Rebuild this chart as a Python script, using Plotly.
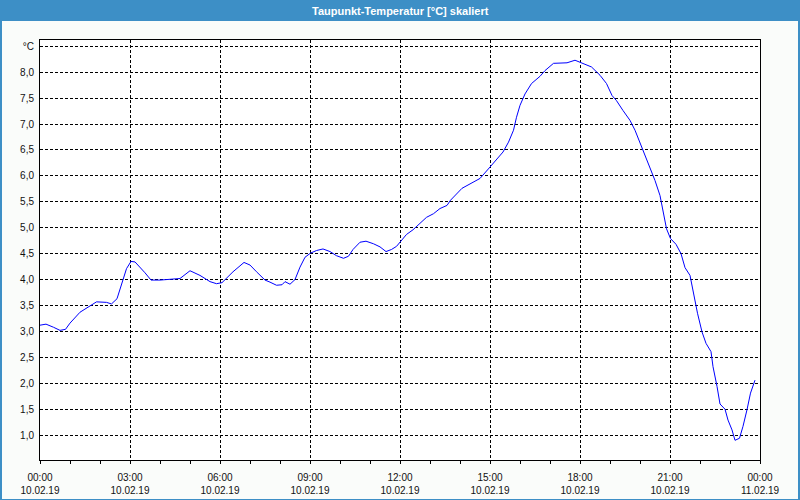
import plotly.graph_objects as go
import pandas as pd

# ---- data ----
times = ["00:00","00:12","00:27","00:40","00:51","01:00","01:20","01:40","01:53","02:13",
         "02:23","02:34","02:43","02:53","03:02","03:10","03:30","03:42","04:00","04:26",
         "04:40","05:00","05:20","05:40","05:53","06:04","06:26","06:48","07:00","07:13",
         "07:30","07:40","07:53","08:04","08:10","08:20","08:30","08:40","08:50","09:01",
         "09:13","09:26","09:40","09:53","10:07","10:17","10:26","10:40","10:52","11:07",
         "11:20","11:32","11:43","11:53","12:04","12:13","12:26","12:40","12:53","13:07",
         "13:20","13:34","13:41","14:04","14:40","15:00","15:13","15:26","15:37","15:47",
         "15:53","16:00","16:10","16:23","16:40","16:50","17:07","17:34","17:50","18:07",
         "18:23","18:40","18:53","19:04","19:13","19:26","19:40","19:50","20:04","20:17",
         "20:30","20:40","20:47","20:53","21:01","21:12","21:22","21:30","21:40","21:47",
         "21:55","22:04","22:12","22:22","22:26","22:34","22:40","22:50","22:56","23:04",
         "23:10","23:19","23:26","23:34","23:41","23:50"]
dewpoint = [3.12,3.14,3.08,3.02,3.04,3.16,3.37,3.50,3.57,3.56,
            3.53,3.63,3.92,4.21,4.35,4.34,4.13,3.99,3.99,4.01,
            4.02,4.17,4.08,3.96,3.92,3.94,4.15,4.33,4.28,4.15,
            3.99,3.95,3.89,3.90,3.96,3.91,4.00,4.24,4.43,4.51,
            4.56,4.59,4.54,4.46,4.41,4.45,4.58,4.72,4.74,4.69,
            4.63,4.54,4.58,4.64,4.77,4.87,4.96,5.08,5.20,5.27,
            5.37,5.43,5.53,5.76,5.95,6.17,6.31,6.46,6.65,6.88,
            7.13,7.36,7.58,7.78,7.92,8.03,8.17,8.18,8.23,8.17,
            8.10,7.94,7.78,7.55,7.45,7.26,7.07,6.88,6.55,6.24,
            5.91,5.62,5.27,4.98,4.79,4.68,4.50,4.23,4.08,3.73,
            3.35,2.99,2.77,2.61,2.32,1.94,1.60,1.50,1.29,1.10,
            0.90,0.94,1.17,1.49,1.81,2.06]
date = "2019-02-10"
x_tick_times = ["2019-02-10 00:00","2019-02-10 03:00","2019-02-10 06:00","2019-02-10 09:00",
                "2019-02-10 12:00","2019-02-10 15:00","2019-02-10 18:00","2019-02-10 21:00",
                "2019-02-11 00:00"]
x_tick_labels = ["00:00<br>10.02.19","03:00<br>10.02.19","06:00<br>10.02.19","09:00<br>10.02.19",
                 "12:00<br>10.02.19","15:00<br>10.02.19","18:00<br>10.02.19","21:00<br>10.02.19",
                 "00:00<br>11.02.19"]
y_tick_vals = [1.0,1.5,2.0,2.5,3.0,3.5,4.0,4.5,5.0,5.5,6.0,6.5,7.0,7.5,8.0,8.5]
y_tick_labels = ["1,0","1,5","2,0","2,5","3,0","3,5","4,0","4,5","5,0","5,5","6,0","6,5",
                 "7,0","7,5","8,0","°C"]
title = "Taupunkt-Temperatur [°C] skaliert"

x = pd.to_datetime([f"{date} {t}" for t in times])

W, H = 800, 500
L, R, T, B = 40, 40, 40, 40
pw, ph = W - L - R, H - T - B

def px(xp):
    return (xp - L) / pw

def py(yp):
    return (H - B - yp) / ph

BLUE = "#3D8FC6"
FONT = "Liberation Sans"

fig = go.Figure()
fig.add_trace(go.Scatter(x=x, y=dewpoint, mode="lines",
                         line=dict(color="#0000FF", width=1), hoverinfo="skip"))

fig.update_layout(
    width=W, height=H,
    margin=dict(l=L, r=R, t=T, b=B, autoexpand=False),
    paper_bgcolor="#FAFCFA",
    plot_bgcolor="#FFFFFF",
    showlegend=False,
    font=dict(family=FONT, size=10, color="#111111"),
    xaxis=dict(
        type="date",
        range=["2019-02-10 00:00", "2019-02-11 00:00"],
        tickvals=x_tick_times, ticktext=x_tick_labels,
        showgrid=True, gridcolor="#000000", gridwidth=1, griddash="3px,2px",
        showline=True, linecolor="#000000", linewidth=1, mirror=True,
        ticks="outside", ticklen=3, tickcolor="#000000",
        minor=dict(dtick=3600000, ticks="outside", ticklen=3, tickcolor="#000000", showgrid=False),
        tickfont=dict(family=FONT, size=10, color="#111111"),
        ticklabelstandoff=5, automargin=False,
        zeroline=False, fixedrange=True,
    ),
    yaxis=dict(
        range=[0.52, 8.62],
        tickvals=y_tick_vals, ticktext=y_tick_labels,
        showgrid=True, gridcolor="#000000", gridwidth=1, griddash="3px,2px",
        showline=True, linecolor="#000000", linewidth=1, mirror=True,
        ticks="", ticklabelstandoff=3, automargin=False,
        tickfont=dict(family=FONT, size=10, color="#111111"),
        zeroline=False, fixedrange=True,
    ),
    shapes=[
        # title bar
        dict(type="rect", xref="paper", yref="paper", x0=px(0), x1=px(W), y0=py(21), y1=py(0),
             fillcolor=BLUE, line=dict(width=0), layer="above"),
        # window borders
        dict(type="rect", xref="paper", yref="paper", x0=px(0), x1=px(2), y0=py(H), y1=py(0),
             fillcolor=BLUE, line=dict(width=0), layer="above"),
        dict(type="rect", xref="paper", yref="paper", x0=px(W - 2), x1=px(W), y0=py(H), y1=py(0),
             fillcolor=BLUE, line=dict(width=0), layer="above"),
        dict(type="rect", xref="paper", yref="paper", x0=px(0), x1=px(W), y0=py(H), y1=py(H - 1),
             fillcolor=BLUE, line=dict(width=0), layer="above"),
    ],
    annotations=[
        dict(text=f"<b>{title}</b>", xref="paper", yref="paper", x=px(400), y=py(10.5),
             xanchor="center", yanchor="middle", showarrow=False,
             font=dict(family=FONT, size=11, color="#FFFFFF")),
    ],
)

fig.write_html("out.html")
